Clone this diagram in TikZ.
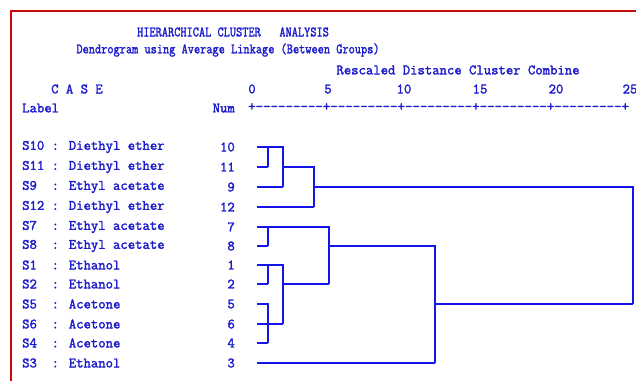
\documentclass[tikz,border=0pt]{standalone}
\usepackage{fontspec}
\newfontfamily\spssfont[FakeBold=2]{Latin Modern Mono}
\definecolor{spssblue}{RGB}{28,28,205}
\definecolor{linkblue}{RGB}{20,20,235}
\definecolor{framered}{RGB}{200,10,10}
\newcommand{\narrow}[1]{\scalebox{0.84}[1]{#1}}
\begin{document}
\begin{tikzpicture}[x=1pt,y=-1pt]

	\tikzstyle{txt} = [inner sep=0pt, text=spssblue, font=\spssfont\fontsize{14.3}{15}\selectfont];
	\tikzstyle{link} = [draw=linkblue, line width=1.8pt];

	\useasboundingbox (0,0) rectangle (636,381);
	\draw[framered, line width=2pt] (11,381) -- (11,11) -- (637,11);

	% headings
	\node[txt] (title) at (233,32) {\narrow{HIERARCHICAL CLUSTER\ \ \ ANALYSIS}};
	\node[txt] (method) at (228,50) {\narrow{Dendrogram using Average Linkage (Between Groups)}};
	\node[txt] (rescaled) at (458,70) {Rescaled Distance Cluster Combine};
	\node[txt] (case) at (77,89) {C A S E};
	\node[txt, anchor=west] (label) at (22,108) {Label};
	\node[txt, anchor=east] (num) at (235,108) {Num};

	% scale
	\node[txt] (s0) at (252,89) {0};
	\node[txt] (s5) at (328,89) {5};
	\node[txt] (s10) at (404,89) {10};
	\node[txt] (s15) at (480,89) {15};
	\node[txt] (s20) at (556,89) {20};
	\node[txt] (s25) at (630,89) {25};
	\node[txt, anchor=west, font=\spssfont\fontsize{14.5}{15}\selectfont] (axis) at (248,107) {+---------+---------+---------+---------+---------+};

	% cases
	\node[txt, anchor=west] (c10) at (22,147) {S10 : Diethyl ether};
	\node[txt, anchor=west] (c11) at (22,167) {S11 : Diethyl ether};
	\node[txt, anchor=west] (c9) at (22,187) {S9\ \ : Ethyl acetate};
	\node[txt, anchor=west] (c12) at (22,207) {S12 : Diethyl ether};
	\node[txt, anchor=west] (c7) at (22,227) {S7\ \ : Ethyl acetate};
	\node[txt, anchor=west] (c8) at (22,246) {S8\ \ : Ethyl acetate};
	\node[txt, anchor=west] (c1) at (22,265) {S1\ \ : Ethanol};
	\node[txt, anchor=west] (c2) at (22,284) {S2\ \ : Ethanol};
	\node[txt, anchor=west] (c5) at (22,304) {S5\ \ : Acetone};
	\node[txt, anchor=west] (c6) at (22,324) {S6\ \ : Acetone};
	\node[txt, anchor=west] (c4) at (22,343) {S4\ \ : Acetone};
	\node[txt, anchor=west] (c3) at (22,363) {S3\ \ : Ethanol};

	\node[txt, anchor=east] (num10) at (235,147) {10};
	\node[txt, anchor=east] (num11) at (235,167) {11};
	\node[txt, anchor=east] (num9) at (235,187) {9};
	\node[txt, anchor=east] (num12) at (235,207) {12};
	\node[txt, anchor=east] (num7) at (235,227) {7};
	\node[txt, anchor=east] (num8) at (235,246) {8};
	\node[txt, anchor=east] (num1) at (235,265) {1};
	\node[txt, anchor=east] (num2) at (235,284) {2};
	\node[txt, anchor=east] (num5) at (235,304) {5};
	\node[txt, anchor=east] (num6) at (235,324) {6};
	\node[txt, anchor=east] (num4) at (235,343) {4};
	\node[txt, anchor=east] (num3) at (235,363) {3};

	% leaves
	\coordinate (n10) at (257,147);
	\coordinate (n11) at (257,167);
	\coordinate (n9) at (257,187);
	\coordinate (n12) at (257,207);
	\coordinate (n7) at (257,227);
	\coordinate (n8) at (257,246);
	\coordinate (n1) at (257,265);
	\coordinate (n2) at (257,284);
	\coordinate (n5) at (257,304);
	\coordinate (n6) at (257,324);
	\coordinate (n4) at (257,343);
	\coordinate (n3) at (257,363);

	% joins
	\coordinate (k1) at (268,167);
	\coordinate (k2) at (283,187);
	\coordinate (m2) at (283,167);
	\coordinate (k3) at (314,207);
	\coordinate (m3) at (314,187);
	\coordinate (k4) at (268,246);
	\coordinate (k5) at (268,284);
	\coordinate (k6) at (283,324);
	\coordinate (m6) at (283,284);
	\coordinate (k7) at (329,284);
	\coordinate (m7) at (329,246);
	\coordinate (k8) at (268,343);
	\coordinate (k9) at (435,363);
	\coordinate (m9) at (435,304);
	\coordinate (root) at (633,304);

	\draw[link] (n10) -| (k1);
	\draw[link] (n11) -- (k1);
	\draw[link] (n10) -| (k2);
	\draw[link] (n9) -- (k2);
	\draw[link] (m2) -| (k3);
	\draw[link] (n12) -- (k3);
	\draw[link] (m3) -| (root);

	\draw[link] (n7) -| (k4);
	\draw[link] (n8) -- (k4);
	\draw[link] (n7) -| (k7);
	\draw[link] (n1) -| (k5);
	\draw[link] (n2) -- (k5);
	\draw[link] (n1) -| (k6);
	\draw[link] (n6) -- (k6);
	\draw[link] (n5) -| (k8);
	\draw[link] (n4) -- (k8);
	\draw[link] (m6) -- (k7);
	\draw[link] (m7) -| (k9);
	\draw[link] (n3) -- (k9);
	\draw[link] (m9) -- (root);

\end{tikzpicture}
\end{document}
